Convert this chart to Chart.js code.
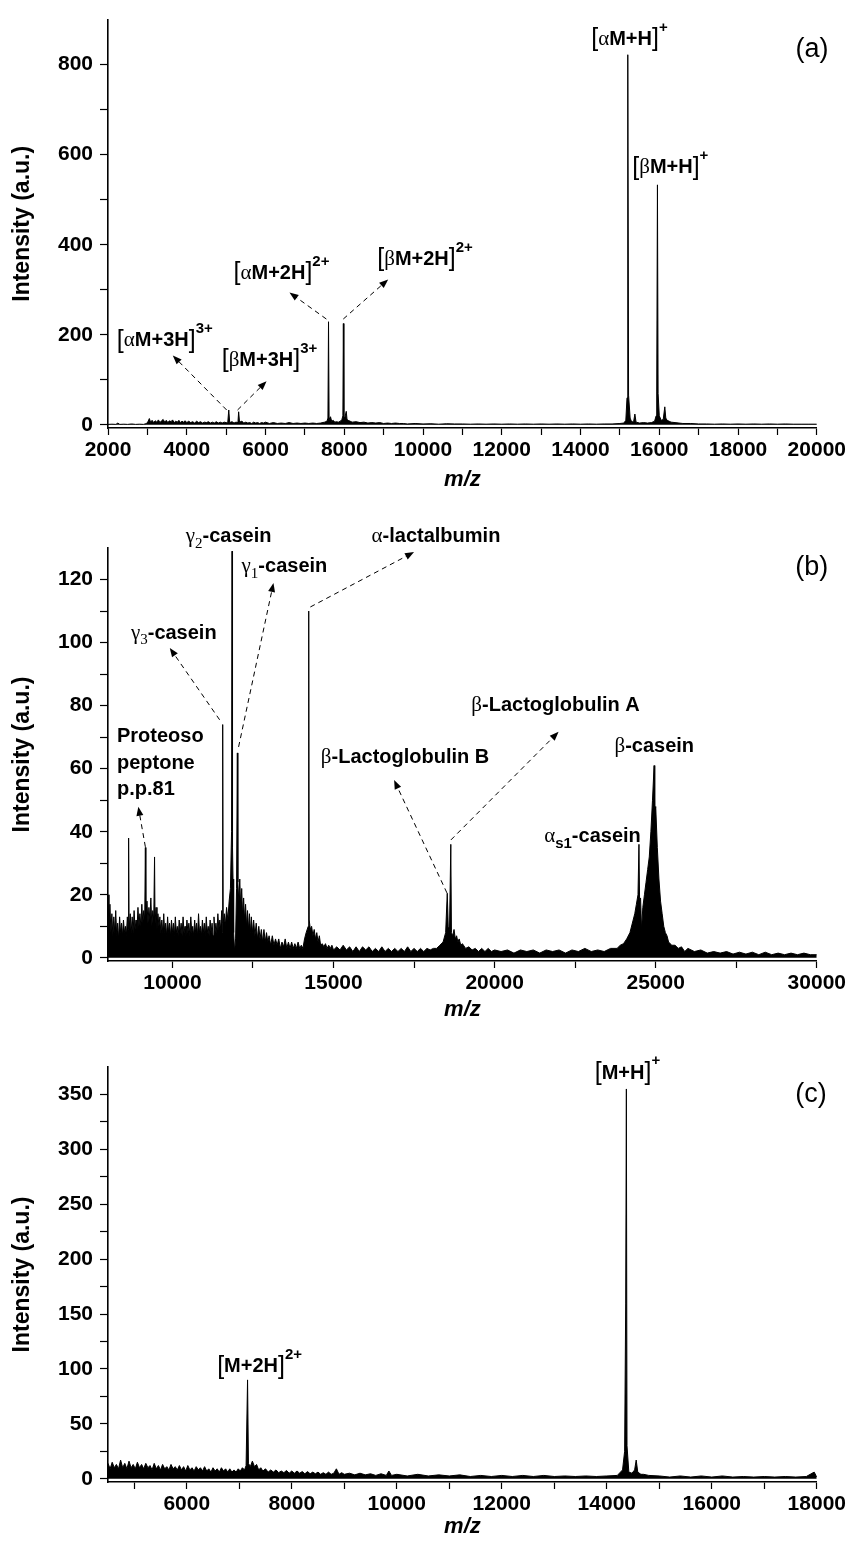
<!DOCTYPE html>
<html><head><meta charset="utf-8">
<script src="https://cdn.jsdelivr.net/npm/chart.js@4.4.1/dist/chart.umd.min.js"></script>
<style>
html,body{margin:0;padding:0;background:#fff;}
#wrap{position:relative;width:849px;height:1541px;overflow:hidden;background:#fff;}
canvas{position:absolute;left:0;}
</style></head><body>
<div id="wrap">
<canvas id="ca" width="849" height="510" style="top:0px"></canvas>
<canvas id="cb" width="849" height="520" style="top:510px"></canvas>
<canvas id="cc" width="849" height="511" style="top:1030px"></canvas>
</div>
<script>
// ---------- Panel (a): [m/z, intensity] ----------
const specA = [[2000,1],[2100,1.5],[2200,1],[2250,4],[2300,1],[2400,1.5],[2500,1],[2600,2],[2700,1],[2800,1.5],[2900,1],[2980,3],[3020,8],[3050,14],[3080,6],[3120,10],[3160,5],[3200,9],[3240,6],[3280,11],[3320,5],[3360,9],[3400,12],[3440,6],[3480,10],[3520,5],[3560,9],[3600,7],[3640,11],[3680,5],[3720,8],[3760,6],[3800,10],[3840,5],[3880,8],[3920,6],[3960,9],[4000,5],[4050,8],[4100,5],[4150,7],[4200,4],[4250,8],[4300,5],[4350,7],[4400,4],[4450,6],[4500,5],[4550,7],[4600,4],[4650,6],[4700,4],[4750,7],[4800,4],[4850,6],[4900,4],[4950,6],[5000,5],[5040,4],[5067,33],[5090,5],[5150,7],[5200,4],[5250,6],[5300,5],[5318,29],[5340,6],[5400,8],[5450,4],[5500,6],[5550,4],[5600,5],[5650,3],[5700,6],[5750,4],[5800,5],[5850,3],[5900,5],[5950,4],[6000,6],[6100,3],[6200,5],[6300,3],[6400,4],[6500,3],[6600,5],[6700,3],[6800,4],[6900,3],[7000,4],[7100,3],[7200,4],[7300,3],[7400,4],[7500,6],[7560,8],[7585,15],[7600,229],[7615,12],[7650,18],[7680,8],[7720,10],[7760,6],[7800,7],[7850,6],[7900,8],[7940,12],[7965,20],[7977,225],[7990,15],[8020,18],[8050,30],[8070,12],[8100,10],[8150,8],[8200,6],[8300,7],[8400,5],[8500,6],[8600,4],[8700,5],[8800,4],[8900,5],[9000,3],[9100,4],[9200,3],[9300,4],[9400,3],[9500,3],[9600,2],[9800,3],[10000,2],[10200,2.5],[10400,1.5],[10600,2.5],[10800,2],[11000,2],[11200,1.5],[11400,2],[11600,1.5],[11800,2],[12000,1.5],[12200,2],[12400,1.5],[12600,2],[12800,1.5],[13000,2],[13200,1.5],[13400,2],[13600,1.5],[13800,2],[14000,1.5],[14200,2],[14400,1.5],[14600,2],[14800,2],[15000,3],[15100,4],[15150,10],[15180,60],[15200,822],[15220,66],[15260,15],[15300,6],[15350,8],[15380,24],[15410,6],[15500,4],[15600,5],[15700,4],[15800,5],[15880,8],[15920,20],[15935,73],[15953,533],[15970,70],[16000,20],[16050,10],[16100,12],[16140,40],[16165,15],[16200,10],[16250,8],[16300,6],[16400,5],[16500,4],[16600,3],[16800,3],[17000,2],[17200,2],[17400,1.5],[17600,2],[17800,1.5],[18000,2],[18200,1.5],[18400,2],[18600,1.5],[18800,2],[19000,1.5],[19200,2],[19400,1.5],[19600,1.5],[19800,1.5],[20000,1.5]];
const xLabelsA = [2000,4000,6000,8000,10000,12000,14000,16000,18000,20000];
const yLabelsA = [0,200,400,600,800];

// ---------- Panel (b): [m/z, intensity] ----------
const specB = [[8000,20],[8030,9],[8060,17],[8090,8],[8120,14],[8150,7],[8180,13],[8210,8],[8240,15],[8270,7],[8300,11],[8330,6],[8360,13],[8390,8],[8420,11],[8450,7],[8480,12],[8510,8],[8540,10],[8570,7],[8600,13],[8625,9],[8640,38],[8655,9],[8690,14],[8720,8],[8750,13],[8780,8],[8810,15],[8840,9],[8870,12],[8900,9],[8930,16],[8960,10],[8990,14],[9020,10],[9050,17],[9080,11],[9110,15],[9140,12],[9160,35],[9175,13],[9210,18],[9240,11],[9270,16],[9300,12],[9330,19],[9360,10],[9390,15],[9420,12],[9445,32],[9460,11],[9490,16],[9520,9],[9550,14],[9580,10],[9610,13],[9640,8],[9670,12],[9700,8],[9730,14],[9760,8],[9790,11],[9820,7],[9850,13],[9880,8],[9910,11],[9940,7],[9970,12],[10000,8],[10030,11],[10060,7],[10090,13],[10120,8],[10150,10],[10180,7],[10210,12],[10240,8],[10270,11],[10300,7],[10330,13],[10360,8],[10390,10],[10420,7],[10450,12],[10480,8],[10510,11],[10540,7],[10570,13],[10600,8],[10630,10],[10660,7],[10690,12],[10720,8],[10750,11],[10780,7],[10810,14],[10840,8],[10870,10],[10900,7],[10930,12],[10960,8],[10990,11],[11020,7],[11050,13],[11080,8],[11110,10],[11140,7],[11170,12],[11200,8],[11230,11],[11260,7],[11290,13],[11320,8],[11350,11],[11380,8],[11410,14],[11440,9],[11470,12],[11500,9],[11530,15],[11545,8],[11560,74],[11575,11],[11610,14],[11640,10],[11680,16],[11720,12],[11760,18],[11800,22],[11835,40],[11850,129],[11865,35],[11880,25],[11900,8],[11930,2],[11960,6],[11990,22],[12015,65],[12030,24],[12060,18],[12090,25],[12120,16],[12150,22],[12180,13],[12210,19],[12240,12],[12270,17],[12300,10],[12330,15],[12360,9],[12390,14],[12420,8],[12450,13],[12480,8],[12520,12],[12560,7],[12600,11],[12640,6],[12680,10],[12720,6],[12760,9],[12800,5],[12840,9],[12880,5],[12920,8],[12960,5],[13000,7],[13050,4],[13100,7],[13150,4],[13200,6],[13250,4],[13300,6],[13350,3],[13400,5],[13450,3.5],[13500,6],[13550,3],[13600,5],[13650,3],[13700,5],[13750,3],[13800,4.5],[13850,3],[13900,5],[13950,3],[14000,4],[14050,3],[14100,6],[14150,8],[14215,10],[14230,110],[14245,12],[14280,9],[14320,10],[14360,7],[14400,9],[14440,6],[14480,8],[14520,5],[14560,7],[14600,4],[14650,4.5],[14700,3.5],[14750,4.5],[14800,3],[14850,4],[14900,3],[14950,4],[15000,2.5],[15100,3.5],[15200,2.5],[15300,4],[15400,2.5],[15500,3.5],[15600,2],[15700,3.5],[15800,2],[15900,3.5],[16000,2.5],[16100,3.5],[16200,2],[16300,3],[16400,2],[16500,3.5],[16600,2],[16700,3],[16800,2],[16900,3],[17000,2],[17100,3],[17200,2],[17300,3.5],[17400,2],[17500,3],[17600,2],[17700,3],[17800,2],[17900,3],[18000,2.5],[18100,3],[18200,3],[18300,4],[18400,5],[18480,8],[18530,20.5],[18560,10],[18600,9],[18640,36],[18660,8],[18700,7],[18740,9],[18780,6],[18820,7],[18860,5],[18900,6],[18950,4],[19000,4.5],[19100,3],[19200,3.5],[19300,2.5],[19400,3],[19500,2],[19600,3],[19700,2],[19800,3],[19900,2],[20000,2.5],[20200,2],[20400,2.5],[20600,1.5],[20800,2.5],[21000,2],[21200,2.5],[21400,1.5],[21600,2.5],[21800,2],[22000,2.5],[22200,1.5],[22400,2.5],[22600,2],[22800,3],[23000,2],[23200,2.5],[23400,2],[23600,3],[23800,3],[23900,4],[24000,4.5],[24100,6],[24200,8],[24300,12],[24350,14],[24400,17],[24450,20],[24480,36],[24500,18],[24530,19],[24560,9],[24600,16],[24650,20],[24700,24],[24750,28],[24800,32],[24850,40],[24900,50],[24950,61],[24970,45],[25000,48],[25050,35],[25100,25],[25150,18],[25200,14],[25250,10],[25300,8],[25350,7],[25400,5],[25500,4],[25600,4],[25700,3],[25800,3.5],[25900,2],[26000,3],[26200,2],[26400,2.5],[26600,1.5],[26800,2],[27000,1.5],[27200,2],[27400,1.2],[27600,1.8],[27800,1.2],[28000,1.8],[28200,1],[28400,1.8],[28600,1],[28800,1.5],[29000,1],[29200,1.5],[29400,1],[29600,1.5],[29800,1],[30000,1]];
const xLabelsB = [10000,15000,20000,25000,30000];
const yLabelsB = [0,20,40,60,80,100,120];

// ---------- Panel (c): [m/z, intensity] ----------
const specC = [[4500,14],[4540,9],[4580,15],[4620,10],[4660,13],[4700,9],[4740,17],[4780,10],[4820,14],[4860,9],[4900,16],[4940,10],[4980,13],[5020,9],[5060,15],[5100,10],[5140,13],[5180,9],[5220,14],[5260,10],[5300,12],[5340,8],[5380,14],[5420,9],[5460,12],[5500,8],[5540,13],[5580,9],[5620,11],[5660,8],[5700,13],[5740,9],[5780,11],[5820,8],[5860,12],[5900,8],[5940,11],[5980,7],[6020,12],[6060,8],[6100,10],[6140,7],[6180,11],[6220,8],[6260,10],[6300,7],[6340,11],[6380,7],[6420,9],[6460,6],[6500,10],[6540,7],[6580,9],[6620,6],[6660,10],[6700,7],[6740,9],[6780,6],[6820,9],[6860,6],[6900,8],[6940,6],[6980,9],[7020,7],[7060,10],[7100,8],[7130,12],[7158,90],[7175,14],[7210,11],[7250,16],[7290,11],[7330,13],[7370,8],[7410,10],[7450,7],[7500,9],[7550,6],[7600,8],[7650,6],[7700,8],[7750,5.5],[7800,7],[7850,5.5],[7900,7.5],[7950,5],[8000,7],[8050,5],[8100,7],[8150,5],[8200,6.5],[8250,4.5],[8300,6.5],[8350,4.5],[8400,6],[8450,4.5],[8500,6],[8550,4],[8600,5.5],[8650,4],[8700,6],[8750,4],[8800,5],[8850,9],[8900,4],[8950,5.5],[9000,4],[9100,5],[9200,3.5],[9300,5],[9400,3.5],[9500,4.5],[9600,3],[9700,4.5],[9800,3],[9850,7],[9900,3],[10000,4],[10200,2.5],[10400,4],[10600,2.5],[10800,3.5],[11000,2.5],[11200,3.5],[11400,2],[11600,3],[11800,2],[12000,3],[12200,2],[12400,3],[12600,2],[12800,3],[13000,2],[13200,2.5],[13400,2],[13600,2.5],[13800,2],[14000,2.5],[14200,3],[14300,8],[14340,25],[14360,160],[14373,355],[14385,30],[14420,6],[14480,5],[14530,8],[14560,17],[14590,6],[14650,4],[14700,4],[14800,3],[15000,2.5],[15200,1.5],[15400,2.5],[15600,1.5],[15800,2.5],[16000,1.5],[16200,2.5],[16400,1.5],[16600,2],[16800,1.5],[17000,2],[17200,1.5],[17400,2],[17600,1.5],[17800,2],[17950,6],[18000,1.5]];
const xLabelsC = [6000,8000,10000,12000,14000,16000,18000];
const yLabelsC = [0,50,100,150,200,250,300,350];

// ---------- annotation text ----------
const F = {
  m: {font: 'bold 20px "Liberation Sans", Arial, sans-serif', dy: 0},
  g: {font: '21px "Liberation Serif", "Times New Roman", serif', dy: 0},
  b: {font: '25px "Liberation Sans", Arial, sans-serif', dy: 0},
  p: {font: 'bold 15px "Liberation Sans", Arial, sans-serif', dy: -12},
  s: {font: '15px "Liberation Serif", serif', dy: 7},
  sb: {font: 'bold 15px "Liberation Sans", Arial, sans-serif', dy: 7}
};
function richWidth(ctx, segs){let w=0;for(const s of segs){ctx.font=F[s[0]].font;w+=ctx.measureText(s[1]).width;}return w;}
function drawRich(ctx, segs, x, y, align){
  const w = richWidth(ctx, segs);
  let cx = align==='left'? x : x - w/2;
  ctx.textBaseline='middle'; ctx.textAlign='left'; ctx.fillStyle='#000';
  for(const s of segs){ctx.font=F[s[0]].font; ctx.fillText(s[1], cx, y+F[s[0]].dy); cx+=ctx.measureText(s[1]).width;}
}
function drawArrow(ctx, x1,y1,x2,y2){
  ctx.save(); ctx.strokeStyle='#000'; ctx.lineWidth=1; ctx.setLineDash([5,4]);
  const ang=Math.atan2(y2-y1,x2-x1); const L=9;
  ctx.beginPath(); ctx.moveTo(x1,y1); ctx.lineTo(x2-Math.cos(ang)*L*0.8, y2-Math.sin(ang)*L*0.8); ctx.stroke();
  ctx.setLineDash([]); ctx.fillStyle='#000'; ctx.beginPath();
  ctx.moveTo(x2,y2);
  ctx.lineTo(x2-L*Math.cos(ang)+3.5*Math.sin(ang), y2-L*Math.sin(ang)-3.5*Math.cos(ang));
  ctx.lineTo(x2-L*Math.cos(ang)-3.5*Math.sin(ang), y2-L*Math.sin(ang)+3.5*Math.cos(ang));
  ctx.closePath(); ctx.fill(); ctx.restore();
}
function annPlugin(spec){
  return {id:'ann', afterDraw(chart){
    const ctx=chart.ctx, xs=chart.scales.x, ys=chart.scales.y;
    ctx.save();
    for(const a of spec.arrows){drawArrow(ctx, xs.getPixelForValue(a[0]), ys.getPixelForValue(a[1]), xs.getPixelForValue(a[2]), ys.getPixelForValue(a[3]));}
    for(const l of spec.labels){drawRich(ctx, l.segs, xs.getPixelForValue(l.x), ys.getPixelForValue(l.y), l.align||'center');}
    ctx.font='27px "Liberation Sans", Arial, sans-serif'; ctx.textAlign='center'; ctx.textBaseline='middle'; ctx.fillStyle='#000';
    ctx.fillText(spec.tag[0], xs.getPixelForValue(spec.tag[1]), ys.getPixelForValue(spec.tag[2]));
    ctx.restore();
  }};
}

const annA = {
  tag: ['(a)', 19876, 834],
  labels: [
    {x:15242, y:856, segs:[['b','['],['g','α'],['m','M+H'],['b',']'],['p','+']]},
    {x:16280, y:571, segs:[['b','['],['g','β'],['m','M+H'],['b',']'],['p','+']]},
    {x:6406, y:336, segs:[['b','['],['g','α'],['m','M+2H'],['b',']'],['p','2+']]},
    {x:10052, y:367, segs:[['b','['],['g','β'],['m','M+2H'],['b',']'],['p','2+']]},
    {x:3443, y:187, segs:[['b','['],['g','α'],['m','M+3H'],['b',']'],['p','3+']]},
    {x:6102, y:143, segs:[['b','['],['g','β'],['m','M+3H'],['b',']'],['p','3+']]}
  ],
  arrows: [[5013,33,3646,154],[5290,33,6026,97],[7545,235,6608,294],[7975,235,9115,323]]
};
const annB = {
  tag: ['(b)', 29844, 123.7],
  labels: [
    {x:11744, y:133.5, segs:[['g','γ'],['s','2'],['m','-casein']]},
    {x:13476, y:124, segs:[['g','γ'],['s','1'],['m','-casein']]},
    {x:18179, y:133.5, segs:[['g','α'],['m','-lactalbumin']]},
    {x:10042, y:103, segs:[['g','γ'],['s','3'],['m','-casein']]},
    {x:8278, y:70.1, align:'left', segs:[['m','Proteoso']]},
    {x:8278, y:61.5, align:'left', segs:[['m','peptone']]},
    {x:8278, y:53.3, align:'left', segs:[['m','p.p.81']]},
    {x:17220, y:63.4, segs:[['g','β'],['m','-Lactoglobulin B']]},
    {x:21892, y:79.9, segs:[['g','β'],['m','-Lactoglobulin A']]},
    {x:24955, y:67.2, segs:[['g','β'],['m','-casein']]},
    {x:23037, y:38.4, segs:[['g','α'],['sb','s1'],['m','-casein']]}
  ],
  arrows: [[9160,35.2,8941,47.9],[11465,75.5,9918,98.3],[12053,66.9,13136,118.9],[14281,111.3,17499,128.7],[18520,20.6,16880,56.4],[18643,37.4,21985,71.7]]
};
const annC = {
  tag: ['(c)', 17888, 349.5],
  labels: [
    {x:14394, y:369.5, segs:[['b','['],['m','M+H'],['b',']'],['p','+']]},
    {x:7387, y:102, segs:[['b','['],['m','M+2H'],['b',']'],['p','2+']]}
  ],
  arrows: []
};

function stepTicks(s, lo, hi, step){
  const t=[]; const start=Math.ceil(lo/step);
  for(let k=start; k*step<=hi+1e-9; k++){ t.push({value:k*step + 0}); }
  s.ticks=t;
}

function makeChart(id, spec, xr, yr, xStep, yStep, xLab, yLab, xH, titlePad, top, ann){
  const pts = spec.map(p=>({x:p[0], y:p[1]}));
  const tickFont = {family:'"Liberation Sans", Arial, sans-serif', weight:'bold', size:21};
  return new Chart(document.getElementById(id), {
    type:'line',
    data:{datasets:[{data:pts, borderColor:'#000', backgroundColor:'#000', borderWidth:1, pointRadius:0, fill:'origin', tension:0}]},
    options:{
      responsive:false, animation:false, devicePixelRatio:1,
      layout:{padding:{left:0, right:30, top:top, bottom:0}},
      plugins:{legend:{display:false}, tooltip:{enabled:false}},
      scales:{
        x:{type:'linear', min:xr[0], max:xr[1],
          afterBuildTicks(s){stepTicks(s, xr[0], xr[1], xStep);},
          afterFit(s){s.height = xH;},
          border:{display:true, color:'#000', width:1.6},
          grid:{drawOnChartArea:false, drawTicks:true, tickLength:7, tickColor:'#000', tickWidth:1.2},
          ticks:{autoSkip:false, maxRotation:0, color:'#000', font:tickFont, padding:3,
            callback:(v)=> xLab.includes(v) ? String(v) : ''},
          title:{display:true, text:'m/z', color:'#000', font:{family:'"Liberation Sans", Arial, sans-serif', weight:'bold', style:'italic', size:22}, padding:{top:0,bottom:titlePad}}
        },
        y:{type:'linear', min:yr[0], max:yr[1],
          afterBuildTicks(s){stepTicks(s, 0, yr[1], yStep);},
          afterFit(s){s.width = 108;},
          border:{display:true, color:'#000', width:1.6},
          grid:{drawOnChartArea:false, drawTicks:true, tickLength:8, tickWidth:1.2,
            tickColor:(c)=> (c.tick && c.tick.value >= yr[1]) ? 'rgba(0,0,0,0)' : '#000'},
          ticks:{autoSkip:false, color:'#000', font:tickFont, padding:7,
            callback:(v)=> yLab.includes(v) ? String(v) : ''},
          title:{display:true, text:'Intensity (a.u.)', color:'#000', font:{family:'"Liberation Sans", Arial, sans-serif', weight:'bold', size:23}, padding:{top:9,bottom:0}}
        }
      }
    },
    plugins:[annPlugin(ann)]
  });
}

makeChart('ca', specA, [2000,20000], [-7,900], 1000, 100, xLabelsA, yLabelsA, 82, 16.8, 13, annA);
makeChart('cb', specB, [8000,30000], [-1,130], 2500, 10, xLabelsB, yLabelsB, 69, 6.8, 38, annB);
makeChart('cc', specC, [4500,18000], [-3,375], 1000, 25, xLabelsC, yLabelsC, 59, 0.8, 37, annC);
</script>
</body></html>
